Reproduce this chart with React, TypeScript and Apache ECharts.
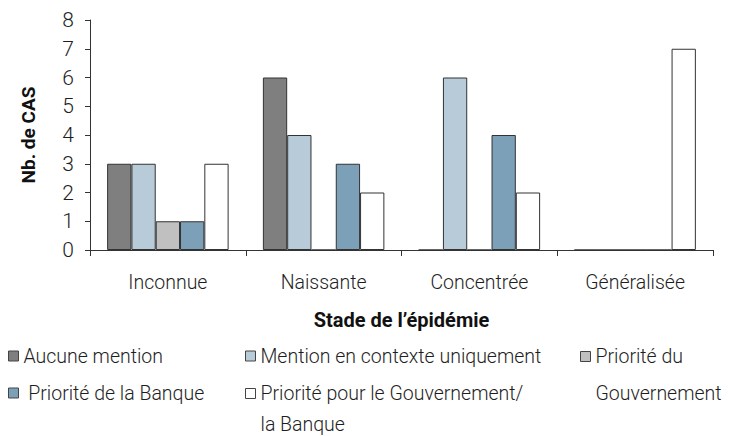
import React, { useEffect, useRef } from "react";
import * as echarts from "echarts";

const categories = ["Inconnue", "Naissante", "Concentrée", "Généralisée"];
const seriesNames = [
  "Aucune mention",
  "Mention en contexte uniquement",
  "Priorité du Gouvernement",
  "Priorité de la Banque",
  "Priorité pour le Gouvernement/la Banque",
];
const aucuneMention = [3, 6, 0, 0];
const mentionContexte = [3, 4, 6, 0];
const prioriteGouvernement = [1, 0, 0, 0];
const prioriteBanque = [1, 3, 4, 0];
const prioriteGouvBanque = [3, 2, 2, 7];
const yTicks = [0, 8, 1]; // min, max, interval

const colors = ["#7f7f7f", "#b8cbd9", "#c0c0c0", "#7ba0b8", "#ffffff"];
const FONT = "Roboto, 'DejaVu Sans Condensed', sans-serif";

export default function App() {
  const ref = useRef<HTMLDivElement>(null);
  useEffect(() => {
    const chart = echarts.init(ref.current!, null, { renderer: "svg" });
    const values = [aucuneMention, mentionContexte, prioriteGouvernement, prioriteBanque, prioriteGouvBanque];
    const textStyle = { fontFamily: FONT, fontSize: 19.5, fontWeight: 300, color: "#1e1e1e" };
    const mkLegend = (name: string, left: number, top: number, text: string, lh: number) => ({
      show: true,
      data: [name],
      left,
      top,
      padding: 0,
      orient: "horizontal",
      selectedMode: false,
      icon: "rect",
      itemWidth: 10,
      itemHeight: 10,
      itemStyle: { borderColor: "#444", borderWidth: 1 },
      formatter: () => text,
      textStyle: { ...textStyle, lineHeight: lh },
    });
    chart.setOption({
      animation: false,
      textStyle: { fontFamily: FONT },
      grid: { left: 90, right: 17, top: 20, bottom: 186 },
      legend: [
        mkLegend(seriesNames[0], 8, 346, "Aucune mention", 20),
        mkLegend(seriesNames[1], 245, 346, "Mention en contexte uniquement", 20),
        mkLegend(seriesNames[2], 580, 301, "\nPriorité du\nGouvernement", 37),
        mkLegend(seriesNames[3], 8, 383, " Priorité de la Banque", 20),
        mkLegend(seriesNames[4], 245, 347, "\nPriorité pour le Gouvernement/\nla Banque", 31),
      ],
      xAxis: {
        type: "category",
        data: categories,
        name: "Stade de l’épidémie",
        nameLocation: "middle",
        nameGap: 60,
        nameTextStyle: { ...textStyle, fontSize: 20, fontWeight: "bold", color: "#111" },
        axisLine: { lineStyle: { color: "#333", width: 1 } },
        axisTick: { show: true, length: 6, lineStyle: { color: "#333" } },
        axisLabel: { ...textStyle, margin: 22 },
      },
      yAxis: {
        type: "value",
        min: yTicks[0],
        max: yTicks[1],
        interval: yTicks[2],
        name: "Nb. de CAS",
        nameLocation: "middle",
        nameGap: 52,
        nameTextStyle: { ...textStyle, fontSize: 19, fontWeight: "bold", color: "#111" },
        axisLine: { show: true, lineStyle: { color: "#333", width: 1 } },
        axisTick: { show: true, length: 5, lineStyle: { color: "#333" } },
        axisLabel: { ...textStyle, fontSize: 21, margin: 16 },
        splitLine: { show: false },
      },
      series: seriesNames.map((name, i) => ({
        name,
        type: "bar",
        data: values[i],
        barGap: "0%",
        barCategoryGap: "22%",
        itemStyle: { color: colors[i], borderColor: "#333", borderWidth: 1 },
      })),
    });
    return () => chart.dispose();
  }, []);
  return <div ref={ref} style={{ width: 730, height: 436, position: "absolute", left: 0, top: 0 }} />;
}
